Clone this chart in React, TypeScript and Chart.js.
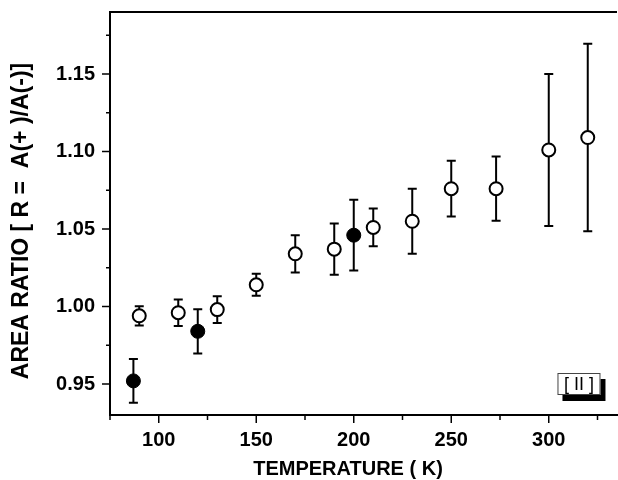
import React, { useEffect, useRef } from 'react';
import { Chart, registerables } from 'chart.js';

Chart.register(...registerables);

// ---- data ----
const openTemps = [90, 110, 130, 150, 170, 190, 210, 230, 250, 273, 300, 320];
const openRatios = [0.994, 0.996, 0.998, 1.014, 1.034, 1.037, 1.051, 1.055, 1.076, 1.076, 1.101, 1.109];
const openErrors = [0.0062, 0.0085, 0.0086, 0.0071, 0.012, 0.0165, 0.0122, 0.021, 0.018, 0.0207, 0.049, 0.0605];

const filledTemps = [87, 120, 200];
const filledRatios = [0.952, 0.984, 1.046];
const filledErrors = [0.0141, 0.0143, 0.0228];

const xTickValues = [75, 100, 125, 150, 175, 200, 225, 250, 275, 300, 325];
const xTickLabels = ['', '100', '', '150', '', '200', '', '250', '', '300', ''];
const yTickValues = [0.95, 0.975, 1.0, 1.025, 1.05, 1.075, 1.1, 1.125, 1.15, 1.175];
const yTickLabels = ['0.95', '', '1.00', '', '1.05', '', '1.10', '', '1.15', ''];

const xTitle = 'TEMPERATURE ( K)';
const yTitle = 'AREA RATIO [ R =  A(+ )/A(-)]';
const panelLabel = '[ II ]';
const panelAt = [315.5, 0.95];

const FONT = "'Liberation Sans', Arial, Helvetica, sans-serif";

const errorBarPlugin = {
  id: 'errorBars',
  beforeDatasetsDraw(chart: any) {
    const { ctx } = chart;
    const yScale = chart.scales.y;
    ctx.save();
    ctx.strokeStyle = '#000';
    ctx.lineWidth = 2;
    chart.data.datasets.forEach((ds: any, di: number) => {
      const meta = chart.getDatasetMeta(di);
      meta.data.forEach((pt: any, i: number) => {
        const v = ds.data[i].y;
        const e = ds.errors[i];
        const yt = yScale.getPixelForValue(v + e);
        const yb = yScale.getPixelForValue(v - e);
        const x = pt.x;
        const cap = 4.5;
        ctx.beginPath();
        ctx.moveTo(x, yt);
        ctx.lineTo(x, yb);
        ctx.moveTo(x - cap, yt);
        ctx.lineTo(x + cap, yt);
        ctx.moveTo(x - cap, yb);
        ctx.lineTo(x + cap, yb);
        ctx.stroke();
      });
    });
    ctx.restore();
  },
};

const frameAndTicksPlugin = {
  id: 'frameTicks',
  afterDraw(chart: any) {
    const { ctx, chartArea } = chart;
    const xs = chart.scales.x;
    const ys = chart.scales.y;
    ctx.save();
    ctx.strokeStyle = '#000';
    ctx.lineWidth = 2;
    // top frame line
    ctx.beginPath();
    ctx.moveTo(chartArea.left, chartArea.top);
    ctx.lineTo(chartArea.right, chartArea.top);
    ctx.stroke();
    // y ticks
    ctx.lineWidth = 1.5;
    ys.ticks.forEach((t: any, i: number) => {
      const y = ys.getPixelForValue(t.value);
      const len = yTickLabels[i] ? 8 : 4;
      ctx.beginPath();
      ctx.moveTo(chartArea.left - len, y);
      ctx.lineTo(chartArea.left, y);
      ctx.stroke();
    });
    xs.ticks.forEach((t: any, i: number) => {
      const x = xs.getPixelForValue(t.value);
      const len = xTickLabels[i] ? 8 : 5;
      ctx.beginPath();
      ctx.moveTo(x, chartArea.bottom);
      ctx.lineTo(x, chartArea.bottom + len);
      ctx.stroke();
    });
    // axis titles
    ctx.fillStyle = '#000';
    ctx.textAlign = 'center';
    ctx.textBaseline = 'middle';
    ctx.font = `bold 20px ${FONT}`;
    ctx.fillText(xTitle, 348, 469);
    ctx.save();
    ctx.translate(22, 221);
    ctx.rotate(-Math.PI / 2);
    ctx.font = `bold 23px ${FONT}`;
    ctx.fillText(yTitle, 0, 0);
    ctx.restore();
    // panel label
    const cx = xs.getPixelForValue(panelAt[0]);
    const cy = ys.getPixelForValue(panelAt[1]);
    const w = 43, h = 22;
    ctx.fillStyle = '#000';
    ctx.fillRect(cx - w / 2 + 5, cy - h / 2 + 6, w, h);
    ctx.fillStyle = '#fff';
    ctx.fillRect(cx - w / 2, cy - h / 2, w, h);
    ctx.strokeStyle = '#444';
    ctx.lineWidth = 1;
    ctx.strokeRect(cx - w / 2 + 0.5, cy - h / 2 + 0.5, w - 1, h - 1);
    ctx.fillStyle = '#000';
    ctx.font = `18px ${FONT}`;
    ctx.textAlign = 'center';
    ctx.textBaseline = 'middle';
    ctx.fillText(panelLabel, cx, cy + 1);
    ctx.restore();
  },
};

export default function App() {
  const ref = useRef<HTMLCanvasElement | null>(null);
  useEffect(() => {
    if (!ref.current) return;
    const chart = new Chart(ref.current, {
      type: 'scatter',
      data: {
        datasets: [
          {
            label: 'open',
            data: openTemps.map((t, i) => ({ x: t, y: openRatios[i] })),
            errors: openErrors,
            pointStyle: 'circle',
            pointRadius: 6.5,
            pointBorderWidth: 2,
            pointBackgroundColor: '#fff',
            pointBorderColor: '#000',
          } as any,
          {
            label: 'filled',
            data: filledTemps.map((t, i) => ({ x: t, y: filledRatios[i] })),
            errors: filledErrors,
            pointStyle: 'circle',
            pointRadius: 7,
            pointBorderWidth: 1,
            pointBackgroundColor: '#000',
            pointBorderColor: '#000',
          } as any,
        ],
      },
      options: {
        animation: false,
        responsive: false,
        layout: { autoPadding: false, padding: { top: 12, right: 1, left: 0, bottom: 0 } },
        plugins: { legend: { display: false }, tooltip: { enabled: false } },
        scales: {
          x: {
            type: 'linear',
            min: 75,
            max: 335,
            afterBuildTicks: (s: any) => {
              s.ticks = xTickValues.map((v) => ({ value: v }));
            },
            afterFit: (s: any) => {
              s.height = 65;
              s.paddingLeft = 0;
              s.paddingRight = 0;
            },
            grid: { display: false, drawTicks: false },
            border: { display: true, color: '#000', width: 2 },
            ticks: {
              autoSkip: false,
              maxRotation: 0,
              padding: 13,
              color: '#000',
              font: { family: FONT, size: 20, weight: 'bold' },
              callback: (_v: any, i: number) => xTickLabels[i],
            },
            title: { display: false },
          },
          y: {
            type: 'linear',
            min: 0.93,
            max: 1.19,
            afterBuildTicks: (s: any) => {
              s.ticks = yTickValues.map((v) => ({ value: v }));
            },
            afterFit: (s: any) => {
              s.width = 110;
              s.paddingTop = 0;
              s.paddingBottom = 0;
            },
            grid: { display: false, drawTicks: false },
            border: { display: true, color: '#000', width: 2 },
            ticks: {
              autoSkip: false,
              padding: 15,
              color: '#000',
              font: { family: FONT, size: 20, weight: 'bold' },
              callback: (_v: any, i: number) => yTickLabels[i],
            },
            title: { display: false },
          },
        },
      },
      plugins: [errorBarPlugin, frameAndTicksPlugin],
    });
    return () => chart.destroy();
  }, []);
  return (
    <div style={{ position: 'fixed', left: 0, top: 0, width: 618, height: 480, background: '#fff' }}>
      <canvas ref={ref} width={618} height={480} style={{ display: 'block' }} />
    </div>
  );
}
